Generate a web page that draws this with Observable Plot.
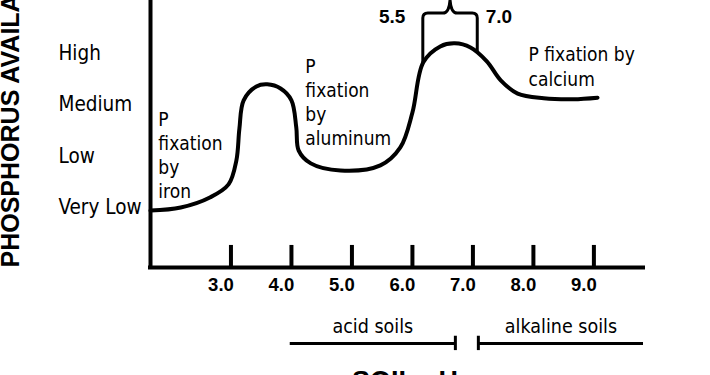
<!DOCTYPE html>
<html><head><meta charset="utf-8">
<script src="https://cdn.jsdelivr.net/npm/d3@7"></script>
<script src="https://cdn.jsdelivr.net/npm/@observablehq/plot@0.6"></script>
<style>
html,body{margin:0;padding:0;background:#fff;overflow:hidden}
</style></head><body><div id="chart"></div>
<script>
// ---- data ----
const levels = ["Very Low", "Low", "Medium", "High"];
const tickValues = [3, 4, 5, 6, 7, 8, 9];
const tickLabels = ["3.0", "4.0", "5.0", "6.0", "7.0", "8.0", "9.0"];
const curvePH = [1.67, 2.17, 2.66, 2.96, 3.09, 3.14, 3.21, 3.42, 3.60, 3.82, 4.00, 4.08, 4.12, 4.32, 4.81, 5.47, 5.80, 6.00, 6.18, 6.46, 6.70, 6.96, 7.23, 7.46, 7.74, 8.17, 8.66, 9.06];
const curveAvail = [-0.06, 0.00, 0.20, 0.45, 0.92, 1.54, 2.09, 2.36, 2.40, 2.32, 2.09, 1.56, 1.11, 0.86, 0.72, 0.82, 1.17, 1.85, 2.83, 3.14, 3.20, 3.12, 2.85, 2.48, 2.22, 2.13, 2.11, 2.14];
const annotations = ["P\nfixation\nby\niron", "P\nfixation\nby\naluminum", "P fixation by\ncalcium"];
const annotationPH = [1.80, 4.23, 7.92];
const annotationAvail = [1.93, 2.96, 3.18];
const optimumLabels = ["5.5", "7.0"];
const optimumPH = [6.18, 7.08];
const soilNames = ["acid soils", "alkaline soils"];
const soilFrom = [3.98, 7.09];
const soilTo = [6.71, 9.82];
const xTitle = "SOIL pH";
const yTitle = "PHOSPHORUS AVAILABILITY";

// ---- scale extents ----
const xMin = 1.67, xMax = 9.82;
const yMin = -1.17, yMax = 4.035;
const soilLevel = -2.65, soilLabelLevel = -2.32;
const braceLevel = 3.78, braceFoot = [2.80, 3.0], optimumLabelLevel = 3.72;

const curve = curvePH.map((x, i) => ({x, y: curveAvail[i]}));
const notes = annotations.map((t, i) => ({t, x: annotationPH[i], y: annotationAvail[i]}));
const soils = soilNames.map((n, i) => ({n, x1: soilFrom[i], x2: soilTo[i], xm: (soilFrom[i] + soilTo[i]) / 2}));

const NARROW = "'Liberation Sans Narrow', 'DejaVu Sans Condensed', sans-serif";
const WIDE = "'Liberation Sans', Arial, sans-serif";

function braceMark(index, scales) {
  const xl = scales.x(optimumPH[0]), xr = scales.x(optimumPH[1]);
  const yt = scales.y(braceLevel);
  const ylb = scales.y(braceFoot[0]), yrb = scales.y(braceFoot[1]);
  const xm = (xl + xr) / 2, r = 5;
  const d = `M${xl},${ylb}V${yt + r}Q${xl},${yt} ${xl + r},${yt}H${xm - 7}Q${xm - 1},${yt} ${xm},${yt - 13}Q${xm + 1},${yt} ${xm + 7},${yt}H${xr - r}Q${xr},${yt} ${xr},${yt + r}V${yrb}`;
  return d3.create("svg:path").attr("d", d).attr("fill", "none")
    .attr("stroke", "black").attr("stroke-width", 3).node();
}

const chart = Plot.plot({
  width: 710, height: 375,
  marginLeft: 150, marginRight: 67, marginTop: 0, marginBottom: 108,
  x: {domain: [xMin, xMax], axis: null},
  y: {domain: [yMin, yMax], axis: null},
  style: {fontFamily: NARROW, background: "white", color: "black", overflow: "visible"},
  marks: [
    Plot.ruleX([xMin], {strokeWidth: 4}),
    Plot.ruleY([yMin], {strokeWidth: 4, strokeLinecap: "square"}),
    Plot.ruleX(tickValues, {y1: yMin, y2: yMin + 0.43, strokeWidth: 4}),
    Plot.line(curve, {x: "x", y: "y", curve: "catmull-rom", strokeWidth: 4}),
    Plot.text(levels, {y: (d, i) => i, text: d => d, frameAnchor: "left", textAnchor: "start", dx: -92, fontSize: 20.5}),
    Plot.text(tickLabels, {x: (d, i) => tickValues[i], text: d => d, frameAnchor: "bottom", dy: 23, dx: -10, fontWeight: "bold", fontSize: 18.5, fontFamily: WIDE}),
    Plot.text(notes, {x: "x", y: "y", text: "t", textAnchor: "start", lineAnchor: "top", lineHeight: 1.27, fontSize: 19}),
    Plot.ruleY(soils, {x1: "x1", x2: "x2", y: soilLevel, strokeWidth: 3}),
    Plot.ruleX([soilTo[0], soilFrom[1]], {y1: soilLevel - 0.14, y2: soilLevel + 0.14, strokeWidth: 3}),
    Plot.text(soils, {x: "xm", y: soilLabelLevel, text: "n", fontSize: 19.5}),
    braceMark,
    Plot.text([optimumLabels[0]], {x: optimumPH[0], y: optimumLabelLevel, text: d => d, textAnchor: "end", dx: -18, fontWeight: "bold", fontSize: 19, fontFamily: WIDE}),
    Plot.text([optimumLabels[1]], {x: optimumPH[1], y: optimumLabelLevel, text: d => d, textAnchor: "start", dx: 8, fontWeight: "bold", fontSize: 19, fontFamily: WIDE}),
    Plot.text([yTitle], {frameAnchor: "bottom-left", text: d => d, rotate: -90, textAnchor: "start", lineAnchor: "middle", dx: -140, fontWeight: "bold", fontSize: 25, fontFamily: WIDE}),
    Plot.text([xTitle], {frameAnchor: "bottom", text: d => d, lineAnchor: "bottom", dy: 122, dx: 8, fontWeight: "bold", fontSize: 27, fontFamily: WIDE})
  ]
});
document.getElementById("chart").appendChild(chart);
</script>
</body></html>
